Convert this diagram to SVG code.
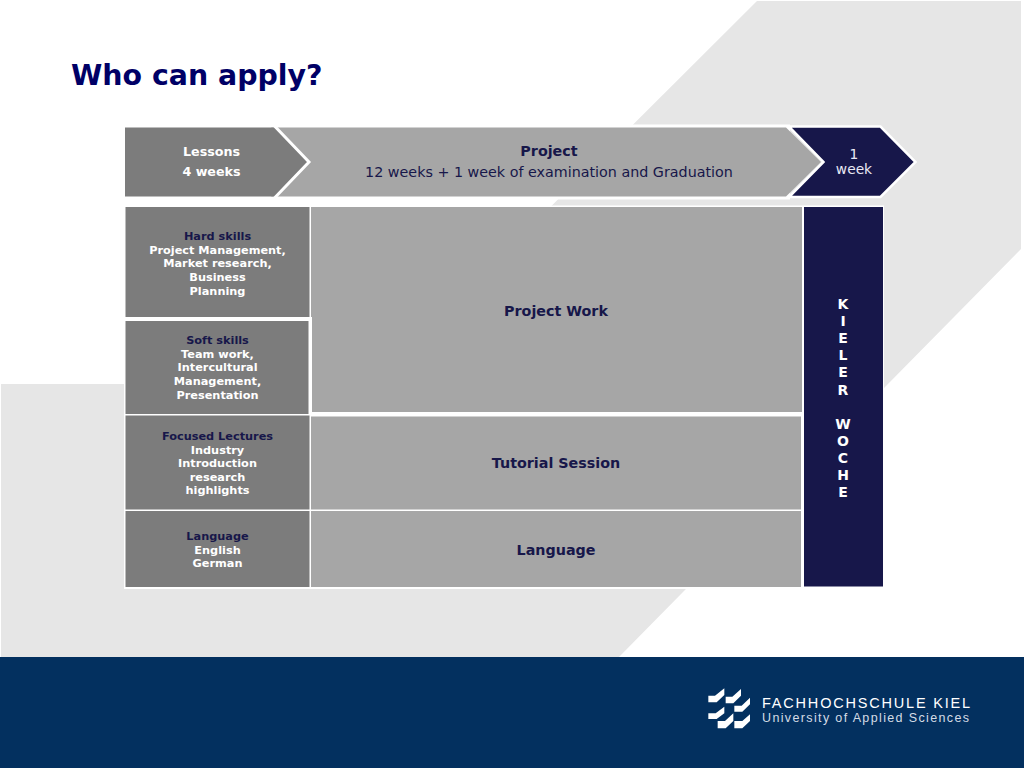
<svg xmlns="http://www.w3.org/2000/svg" width="1024" height="768" viewBox="0 0 1024 768">
<style>
text{font-family:"DejaVu Sans",Verdana,sans-serif;text-anchor:middle}
.b{font-weight:700}
.s{font-size:11.3px;font-weight:700;fill:#fff}
.t{font-size:11.3px;font-weight:700;fill:#17174a}
.h{fill:#17174a}
.m{font-size:14.3px;font-weight:700;fill:#17174a}
.dark{fill:#7c7c7c}
.light{fill:#a6a6a6}
.navy{fill:#17174a}
.logo{font-family:"Liberation Sans",Arial,sans-serif;text-anchor:start}
</style>
<rect width="1024" height="768" fill="#fff"/>
<polygon points="757,1 1021,1 1021,249 619,657 1,657 1,384 373,384" fill="#e6e6e6"/>
<rect x="0" y="657" width="1024" height="111" fill="#03305f"/>
<text x="71" y="85" font-size="28.400" class="b" fill="#000066" style="text-anchor:start">Who can apply?</text>

<rect x="124" y="124.500" width="666" height="75" fill="#fff"/>
<rect x="124" y="205.500" width="760" height="383.500" fill="#fff"/>

<g id="connectors"></g>

<g id="chevron-project">
<polygon points="271,127.500 786,127.500 821,162 786,196.500 271,196.500 307,162" class="light"/>
<text x="549" y="156" font-size="14.300" class="b h">Project</text>
<text x="549" y="177" font-size="14.300" class="h">12 weeks + 1 week of examination and Graduation</text>
</g>
<g id="chevron-lessons">
<polygon points="125,127.500 275,127.500 309,162 275,196.500 125,196.500" class="dark"/>
<polyline points="274.500,126 309,162 274.500,198" fill="none" stroke="#fff" stroke-width="3"/>
<text x="211.500" y="156" font-size="12.700" class="b" fill="#fff">Lessons</text>
<text x="211.500" y="175.500" font-size="12.700" class="b" fill="#fff">4 weeks</text>
</g>
<g id="chevron-week">
<polygon points="789,126.500 880.500,126.500 915.500,162 880.500,197 789,197 823.500,162" class="navy" stroke="#fff" stroke-width="2.500"/>
<text x="854" y="159" font-size="13.800" fill="#e8e8f4">1</text>
<text x="854" y="174" font-size="13.800" fill="#e8e8f4">week</text>
</g>

<g id="hard-skills">
<rect x="125.500" y="207" width="184" height="110" class="dark"/>
<text x="217.500" y="240" class="t">Hard skills</text>
<text x="217.500" y="253.500" class="s">Project Management,</text>
<text x="217.500" y="267" class="s">Market research,</text>
<text x="217.500" y="281" class="s">Business</text>
<text x="217.500" y="294.500" class="s">Planning</text>
</g>
<g id="soft-skills">
<rect x="125.500" y="321" width="183" height="93" class="dark"/>
<text x="217.500" y="344" class="t">Soft skills</text>
<text x="217.500" y="357.500" class="s">Team work,</text>
<text x="217.500" y="371" class="s">Intercultural</text>
<text x="217.500" y="385" class="s">Management,</text>
<text x="217.500" y="398.500" class="s">Presentation</text>
</g>
<g id="focused-lectures">
<rect x="125.500" y="415.500" width="184" height="94" class="dark"/>
<text x="217.500" y="440" class="t">Focused Lectures</text>
<text x="217.500" y="453.500" class="s">Industry</text>
<text x="217.500" y="467" class="s">Introduction</text>
<text x="217.500" y="480.500" class="s">research</text>
<text x="217.500" y="494" class="s">highlights</text>
</g>
<g id="language-side">
<rect x="125.500" y="511" width="184" height="76" class="dark"/>
<text x="217.500" y="540" class="t">Language</text>
<text x="217.500" y="553.500" class="s">English</text>
<text x="217.500" y="567" class="s">German</text>
</g>

<g id="project-work">
<polygon points="311,207 802,207 802,412 312,412 312,317 311,317" class="light"/>
<text x="556" y="316" class="m">Project Work</text>
</g>
<g id="tutorial-session">
<rect x="311" y="416.500" width="490" height="93" class="light"/>
<text x="556" y="468" class="m">Tutorial Session</text>
</g>
<g id="language-main">
<rect x="311" y="511" width="490" height="76" class="light"/>
<text x="556" y="555" class="m">Language</text>
</g>
<g id="kieler-woche">
<rect x="804" y="207" width="79" height="379.500" class="navy"/>
<g font-size="14" class="b" fill="#fff">
<text x="843" y="309">K</text><text x="843" y="326">I</text><text x="843" y="343">E</text><text x="843" y="360">L</text><text x="843" y="377">E</text><text x="843" y="394.500">R</text>
<text x="843" y="429">W</text><text x="843" y="446">O</text><text x="843" y="463">C</text><text x="843" y="480">H</text><text x="843" y="497">E</text>
</g>
</g>
<g id="logo">
<g fill="#fff" transform="translate(705 685) scale(.3333)">
<polygon points="10,32 30,32 58,10 58,30 35,52 10,52"/>
<polygon points="62,35 82,35 108,12 108,32 85,55 62,55"/>
<polygon points="88,62 110,62 135,38 135,58 112,80 88,80"/>
<polygon points="10,85 32,85 58,65 58,85 35,102 10,102"/>
<polygon points="38,108 60,108 85,85 85,108 62,130 38,130"/>
<polygon points="88,108 112,108 135,88 135,108 112,130 88,130"/>
</g>
<text x="762" y="707.500" font-size="14.500" fill="#fff" textLength="208" lengthAdjust="spacing" class="logo">FACHHOCHSCHULE KIEL</text>
<text x="762" y="722" font-size="12.500" fill="#d5dce6" textLength="207" lengthAdjust="spacing" class="logo">University of Applied Sciences</text>
</g>
</svg>
